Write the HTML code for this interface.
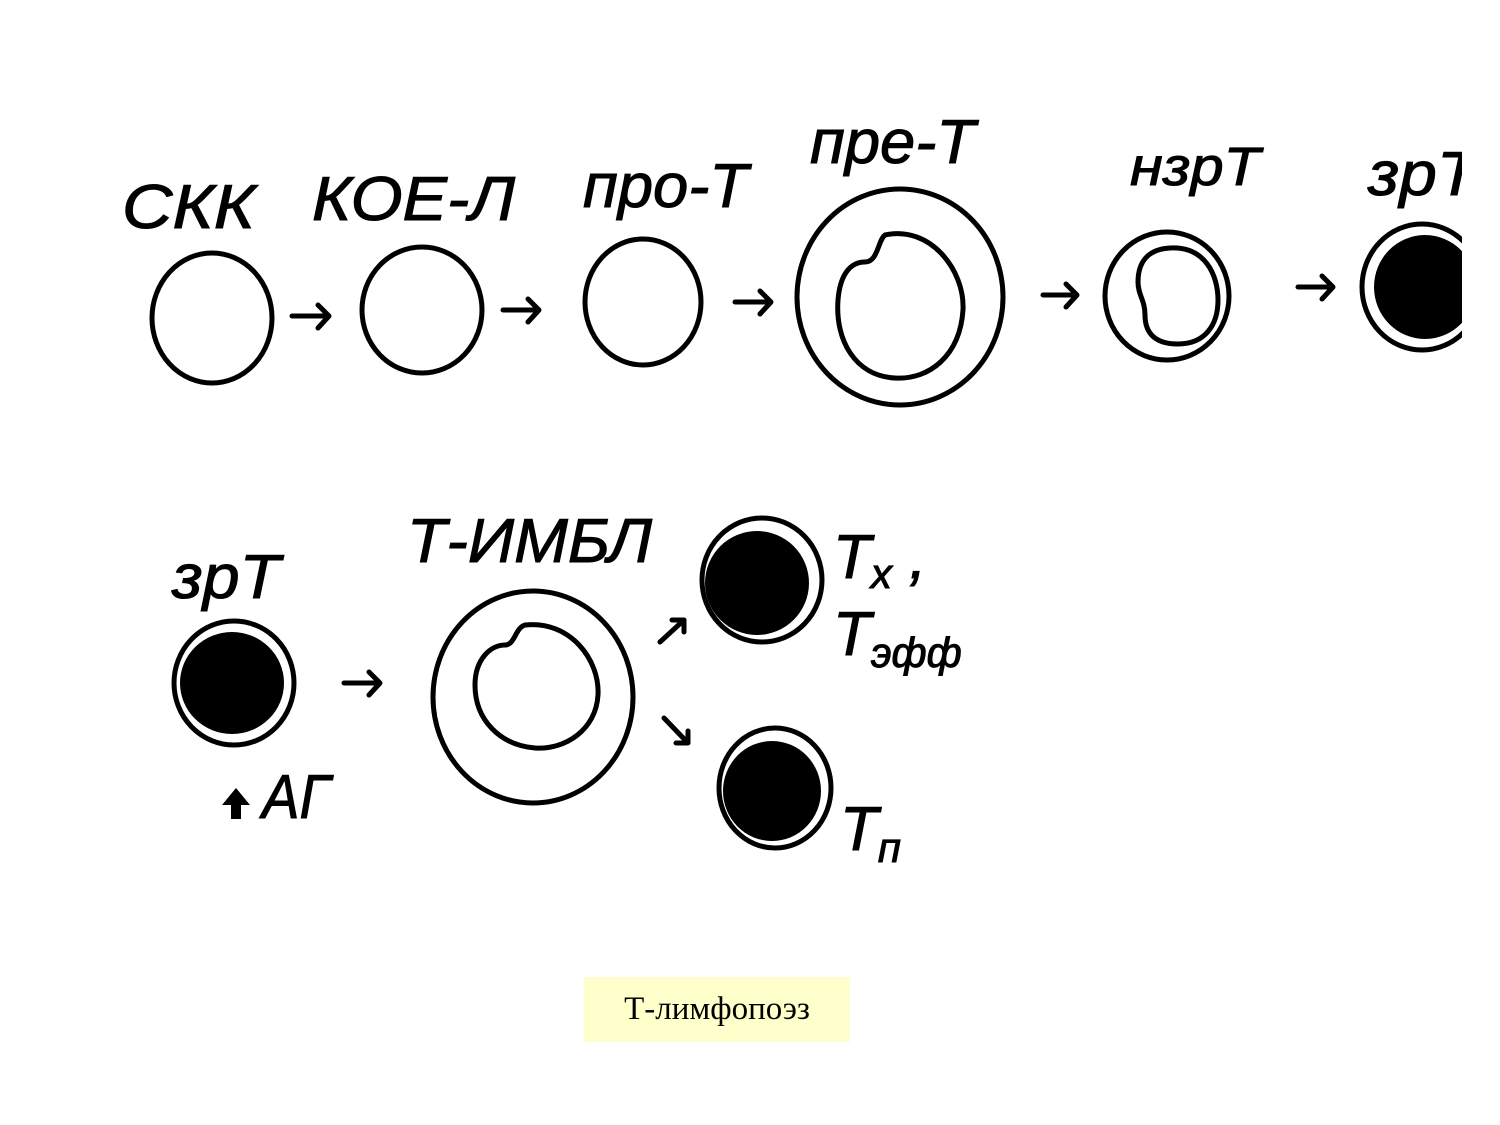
<!DOCTYPE html>
<html><head><meta charset="utf-8"><style>
html,body{margin:0;padding:0;background:#fff;width:1500px;height:1125px;overflow:hidden}
svg{position:absolute;left:0;top:0}
.t{font-family:"Liberation Sans","DejaVu Sans",sans-serif;font-style:italic;font-size:62px;fill:#000;stroke:#000;stroke-width:1}
.cap{position:absolute;left:584px;top:977px;width:266px;height:65px;background:#ffffcc;font-family:"Liberation Serif",serif;font-size:33px;line-height:65px;text-align:center;color:#000}
</style></head><body>
<svg width="1500" height="1125" viewBox="0 0 1500 1125">
<defs>
<clipPath id="c"><rect x="0" y="0" width="1462" height="1125"/></clipPath></defs>
<g fill="none" stroke="#000" stroke-width="5">
<ellipse cx="212" cy="318" rx="60" ry="65"/>
<ellipse cx="422" cy="310" rx="60" ry="63"/>
<ellipse cx="643" cy="302" rx="58" ry="63"/>
<ellipse cx="900" cy="297" rx="103" ry="108"/>
<path d="M885,235 C930,225 965,270 963,310 C960,355 930,380 895,378 C855,376 835,340 838,300 C840,275 850,262 865,262 C878,262 878,240 885,235Z"/>
<ellipse cx="1167" cy="296" rx="62" ry="64"/>
<path d="M1170,248 C1205,246 1218,275 1218,300 C1218,325 1205,344 1178,344 C1150,344 1145,328 1145,315 C1145,300 1138,295 1138,282 C1138,260 1150,249 1170,248Z"/>
<g clip-path="url(#c)"><ellipse cx="1422" cy="287" rx="60" ry="63"/></g>
<ellipse cx="234" cy="683" rx="60" ry="62"/>
<ellipse cx="533" cy="697" rx="100" ry="106"/>
<path d="M525,625 C570,620 600,660 598,695 C596,730 565,750 535,748 C500,745 475,720 475,685 C475,660 490,645 505,645 C515,645 515,628 525,625Z"/>
<ellipse cx="762" cy="580" rx="60" ry="62"/>
<ellipse cx="775" cy="788" rx="56" ry="60"/>
<g stroke-width="5" stroke-linecap="round" stroke-linejoin="round">
<path d="M292,316 H328 M318,305 L329,316 L318,328"/>
<path d="M503,310 H538 M528,299 L539,310 L528,322"/>
<path d="M735,302 H770 M760,291 L771,302 L760,314"/>
<path d="M1043,295 H1076 M1066,284 L1077,295 L1066,307"/>
<path d="M1298,287 H1332 M1322,276 L1333,287 L1322,299"/>
<path d="M344,683 H379 M369,672 L380,683 L369,695"/>
<path d="M660,642 L684,620 M672,620 L684,620 L684,632"/>
<path d="M664,718 L688,743 M688,731 L688,743 L676,743"/>
</g>
</g>
<g fill="#000">
<g clip-path="url(#c)"><ellipse cx="1425" cy="287" rx="51" ry="52"/></g>
<ellipse cx="232" cy="683" rx="52" ry="51"/>
<ellipse cx="757" cy="583" rx="52" ry="52"/>
<ellipse cx="772" cy="791" rx="49" ry="50"/>
<path d="M236,788 l-14,17 h9 v14 h10 v-14 h9z"/>
</g>
<g class="t">
<text x="122" y="228" textLength="133" lengthAdjust="spacingAndGlyphs">СКК</text>
<text x="312" y="220" textLength="203" lengthAdjust="spacingAndGlyphs">КОЕ-Л</text>
<text x="583" y="207" textLength="165" lengthAdjust="spacingAndGlyphs">про-Т</text>
<text x="810" y="163" textLength="165" lengthAdjust="spacingAndGlyphs">пре-Т</text>
<text x="1130" y="185" font-size="54" textLength="130" lengthAdjust="spacingAndGlyphs">нзрТ</text>
<text x="1368" y="195" clip-path="url(#c)" textLength="110" lengthAdjust="spacingAndGlyphs">зрТ</text>
<text x="172" y="598" textLength="108" lengthAdjust="spacingAndGlyphs">зрТ</text>
<text x="407" y="562" textLength="245" lengthAdjust="spacingAndGlyphs">Т-ИМБЛ</text>
<text x="262" y="818" textLength="68" lengthAdjust="spacingAndGlyphs">АГ</text>
<text x="833" y="578">Т<tspan font-size="42" dy="10">х</tspan><tspan dy="-10"> ,</tspan></text>
<text x="833" y="655">Т<tspan font-size="42" dy="12">эфф</tspan></text>
<text x="840" y="850">Т<tspan font-size="42" dy="12">п</tspan></text>
</g>
</svg>
<div class="cap">Т-лимфопоэз</div>
</body></html>
